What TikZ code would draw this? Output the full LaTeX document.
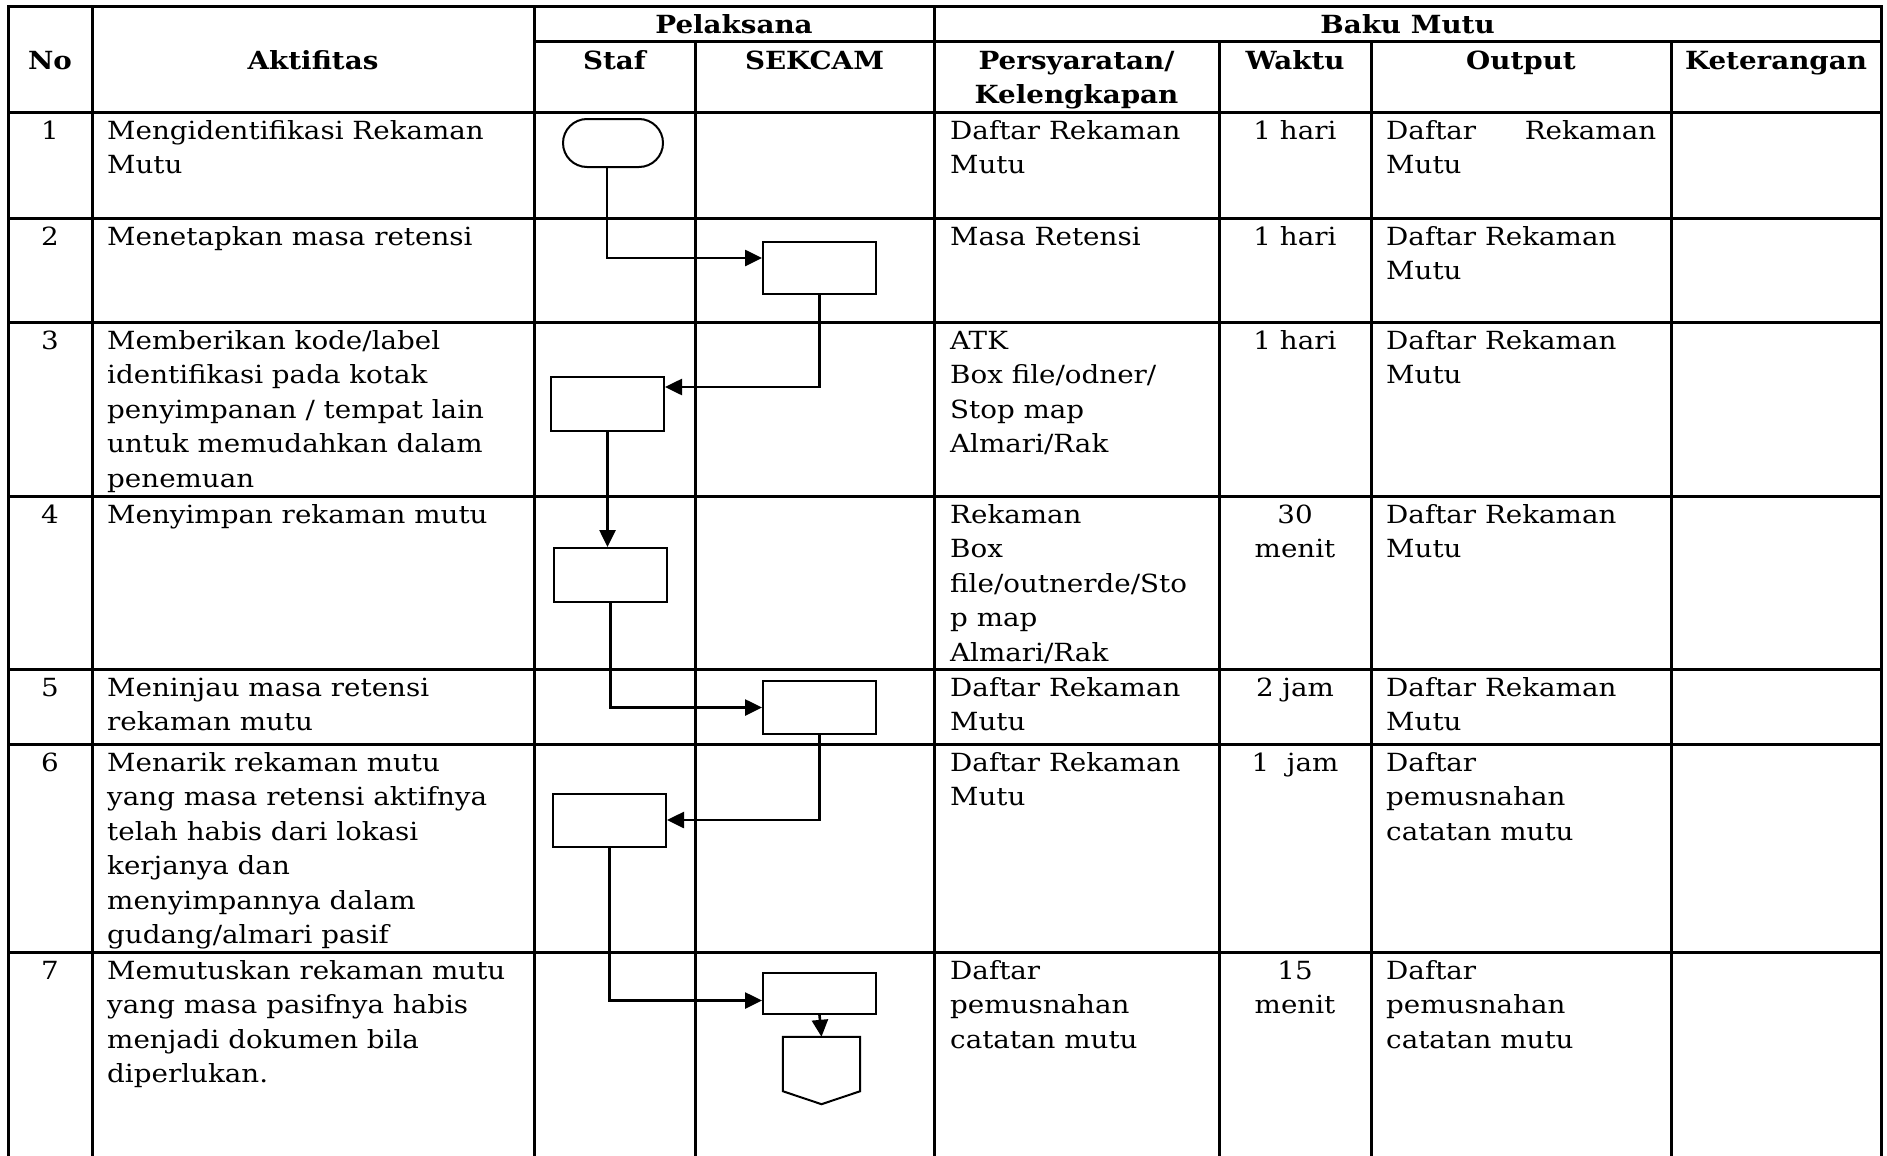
\documentclass[tikz,border=0pt]{standalone}
\usepackage{fontspec}
\setmainfont{DejaVu Serif}[FakeStretch=1.11]
\usetikzlibrary{arrows.meta,shapes.misc}
\newcommand\bodyfont{\fontsize{25pt}{34.5pt}\selectfont}
\newcommand\headfont{\fontsize{25pt}{34.5pt}\selectfont\bfseries}
\newcommand\fl{\rule{0pt}{20pt}}
\begin{document}
\begin{tikzpicture}[x=1pt,y=-1pt,
  tl/.style={line width=3pt,line cap=rect},
  txt/.style={inner sep=0pt,anchor=north west,align=left,font=\bodyfont},
  ctxt/.style={inner sep=0pt,anchor=north,align=center,font=\bodyfont},
  hd/.style={inner sep=0pt,anchor=north,align=center,font=\headfont},
  stepbox/.style={draw,line width=2pt,minimum width=113pt,inner sep=0pt},
  arr/.style={line width=2.6pt,-{Triangle[length=17pt,width=16pt]}}]
\useasboundingbox (0,0) rectangle (1887,1156);
% table grid
\draw[tl] (8,7) -- (1881,7);
\draw[tl] (534,42) -- (1881,42);
\foreach \y in {112,218,322,496,669,744,952} \draw[tl] (8,\y) -- (1881,\y);
\foreach \x in {8,92,534,934,1881} \draw[tl] (\x,7) -- (\x,1160);
\foreach \x in {695,1219,1371,1671} \draw[tl] (\x,42) -- (\x,1160);
% headers
\node[hd] (hno) at (50,49) {\fl No};
\node[hd] (hakt) at (313,49) {\fl Aktifitas};
\node[hd] (hpel) at (734,13) {\fl Pelaksana};
\node[hd] (hbaku) at (1407.5,13) {\fl Baku Mutu};
\node[hd] (hstaf) at (614.5,49) {\fl Staf};
\node[hd] (hsek) at (814.5,49) {\fl SEKCAM};
\node[hd] (hpers) at (1076.5,49) {\fl Persyaratan/\\Kelengkapan};
\node[hd] (hwak) at (1295,49) {\fl Waktu};
\node[hd] (hout) at (1521,49) {\fl Output};
\node[hd] (hket) at (1776,49) {\fl Keterangan};
% row 1
\node[ctxt] (n1) at (50,119) {\fl 1};
\node[txt] (a1) at (107,119) {\fl Mengidentifikasi Rekaman\\Mutu};
\node[txt] (p1) at (950,119) {\fl Daftar Rekaman\\Mutu};
\node[ctxt] (w1) at (1295,119) {\fl 1 hari};
\node[txt] (o1) at (1386,119) {\fl\makebox[270pt][s]{Daftar Rekaman}\\Mutu};
% row 2
\node[ctxt] (n2) at (50,225) {\fl 2};
\node[txt] (a2) at (107,225) {\fl Menetapkan masa retensi};
\node[txt] (p2) at (950,225) {\fl Masa Retensi};
\node[ctxt] (w2) at (1295,225) {\fl 1 hari};
\node[txt] (o2) at (1386,225) {\fl Daftar Rekaman\\Mutu};
% row 3
\node[ctxt] (n3) at (50,329) {\fl 3};
\node[txt] (a3) at (107,329) {\fl Memberikan kode/label\\identifikasi pada kotak\\penyimpanan / tempat lain\\untuk memudahkan dalam\\penemuan};
\node[txt] (p3) at (950,329) {\fl ATK\\Box file/odner/\\Stop map\\Almari/Rak};
\node[ctxt] (w3) at (1295,329) {\fl 1 hari};
\node[txt] (o3) at (1386,329) {\fl Daftar Rekaman\\Mutu};
% row 4
\node[ctxt] (n4) at (50,503) {\fl 4};
\node[txt] (a4) at (107,503) {\fl Menyimpan rekaman mutu};
\node[txt] (p4) at (950,503) {\fl Rekaman\\Box\\file/outnerde/Sto\\p map\\Almari/Rak};
\node[ctxt] (w4) at (1295,503) {\fl 30\\menit};
\node[txt] (o4) at (1386,503) {\fl Daftar Rekaman\\Mutu};
% row 5
\node[ctxt] (n5) at (50,676) {\fl 5};
\node[txt] (a5) at (107,676) {\fl Meninjau masa retensi\\rekaman mutu};
\node[txt] (p5) at (950,676) {\fl Daftar Rekaman\\Mutu};
\node[ctxt] (w5) at (1295,676) {\fl 2 jam};
\node[txt] (o5) at (1386,676) {\fl Daftar Rekaman\\Mutu};
% row 6
\node[ctxt] (n6) at (50,751) {\fl 6};
\node[txt] (a6) at (107,751) {\fl Menarik rekaman mutu\\yang masa retensi aktifnya\\telah habis dari lokasi\\kerjanya dan\\menyimpannya dalam\\gudang/almari pasif};
\node[txt] (p6) at (950,751) {\fl Daftar Rekaman\\Mutu};
\node[ctxt] (w6) at (1295,751) {\fl 1~~jam};
\node[txt] (o6) at (1386,751) {\fl Daftar\\pemusnahan\\catatan mutu};
% row 7
\node[ctxt] (n7) at (50,959) {\fl 7};
\node[txt] (a7) at (107,959) {\fl Memutuskan rekaman mutu\\yang masa pasifnya habis\\menjadi dokumen bila\\diperlukan.};
\node[txt] (p7) at (950,959) {\fl Daftar\\pemusnahan\\catatan mutu};
\node[ctxt] (w7) at (1295,959) {\fl 15\\menit};
\node[txt] (o7) at (1386,959) {\fl Daftar\\pemusnahan\\catatan mutu};
% flow shapes
\node[draw,line width=2pt,rounded rectangle,minimum width=100pt,minimum height=48pt,inner sep=0pt] (term) at (613,143) {};
\node[stepbox,minimum height=52pt] (b2) at (819.5,268) {};
\node[stepbox,minimum height=54pt] (b3) at (607.5,404) {};
\node[stepbox,minimum height=54pt] (b4) at (610.5,575) {};
\node[stepbox,minimum height=53pt] (b5) at (819.5,707.5) {};
\node[stepbox,minimum height=53pt] (b6) at (609.5,820) {};
\node[stepbox,minimum height=41pt] (b7) at (819.5,993.5) {};
\node[inner sep=0pt,minimum width=77pt,minimum height=67pt] (off) at (821.5,1070.5) {};
\draw[line width=2pt,line join=miter] (off.north west) -- (off.north east) -- ([yshift=13pt]off.south east) -- (off.south) -- ([yshift=13pt]off.south west) -- cycle;
% connectors
\draw[arr] ([xshift=-6pt]term.south) |- ([yshift=10pt]b2.west);
\draw[arr] (b2.south) |- ([yshift=17pt]b3.east);
\draw[arr] (b3.south) -- (b3.south |- b4.north);
\draw[arr] (b4.south) |- (b5.west);
\draw[arr] (b5.south) |- (b6.east);
\draw[arr] (b6.south) |- ([yshift=-7pt]b7.west);
\draw[arr] (b7.south) -- (off.north);
\end{tikzpicture}
\end{document}
